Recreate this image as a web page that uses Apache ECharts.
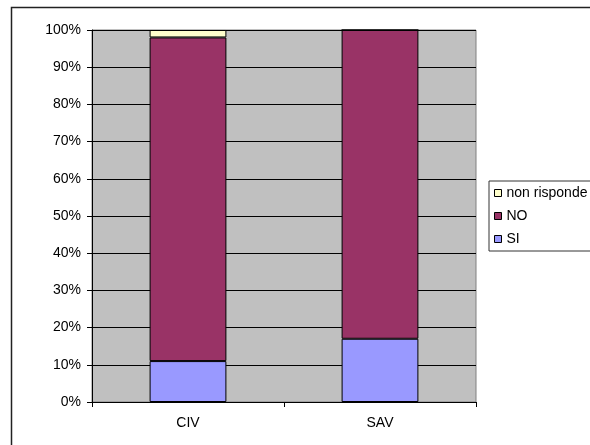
<!DOCTYPE html>
<html><head><meta charset="utf-8">
<script src="https://cdn.jsdelivr.net/npm/echarts@6/dist/echarts.min.js"></script>
<style>html,body{margin:0;padding:0;background:#fff}#c{width:590px;height:445px}</style>
</head><body><div id="c"></div>
<script>
const categories = ['CIV', 'SAV'];
const siValues = [11, 17];
const noValues = [87, 83];
const nonRispondeValues = [2, 0];
const yTicks = [0, 10, 20, 30, 40, 50, 60, 70, 80, 90, 100];

const chart = echarts.init(document.getElementById('c'));
const font = 'Arial, "Liberation Sans", sans-serif';
const barStyle = c => ({ color: c, borderColor: '#000', borderWidth: 1 });
chart.setOption({
  animation: false,
  backgroundColor: '#fff',
  graphic: [{ type: 'rect', shape: { x: 11.5, y: 7.5, width: 600, height: 460 },
    style: { fill: 'none', stroke: '#222', lineWidth: 1.5 }, silent: true }],
  grid: { left: 92, top: 30, right: 114, bottom: 43, show: true,
    backgroundColor: '#C0C0C0', borderColor: '#808080', borderWidth: 1 },
  legend: {
    orient: 'vertical', left: 489, top: 181,
    padding: [5, 40, 5, 5], itemGap: 9, itemWidth: 7, itemHeight: 7,
    borderColor: '#333', borderWidth: 1, backgroundColor: '#fff',
    icon: 'rect',
    textStyle: { fontFamily: font, fontSize: 14, color: '#000' },
    data: [
      { name: 'non risponde', itemStyle: { borderColor: '#000', borderWidth: 1 } },
      { name: 'NO', itemStyle: { borderColor: '#000', borderWidth: 1 } },
      { name: 'SI', itemStyle: { borderColor: '#000', borderWidth: 1 } }
    ]
  },
  xAxis: {
    type: 'category', data: categories,
    axisLine: { lineStyle: { color: '#000', width: 1 } },
    axisTick: { show: true, length: 5, lineStyle: { color: '#000' } },
    axisLabel: { fontFamily: font, fontSize: 14, color: '#000', margin: 14 }
  },
  yAxis: {
    type: 'value', min: 0, max: 100, interval: 10,
    axisLine: { show: true, lineStyle: { color: '#000', width: 1 } },
    axisTick: { show: true, length: 5, lineStyle: { color: '#000' } },
    axisLabel: { fontFamily: font, fontSize: 14, color: '#000', margin: 11,
      formatter: v => yTicks.includes(v) ? v + '%' : '' },
    splitLine: { show: true, lineStyle: { color: '#000', width: 1 } }
  },
  series: [
    { name: 'SI', type: 'bar', stack: 's', data: siValues, barWidth: '40%', itemStyle: barStyle('#9999FF') },
    { name: 'NO', type: 'bar', stack: 's', data: noValues, barWidth: '40%', itemStyle: barStyle('#993366') },
    { name: 'non risponde', type: 'bar', stack: 's', data: nonRispondeValues, barWidth: '40%', itemStyle: barStyle('#FFFFCC') }
  ]
});
</script></body></html>
